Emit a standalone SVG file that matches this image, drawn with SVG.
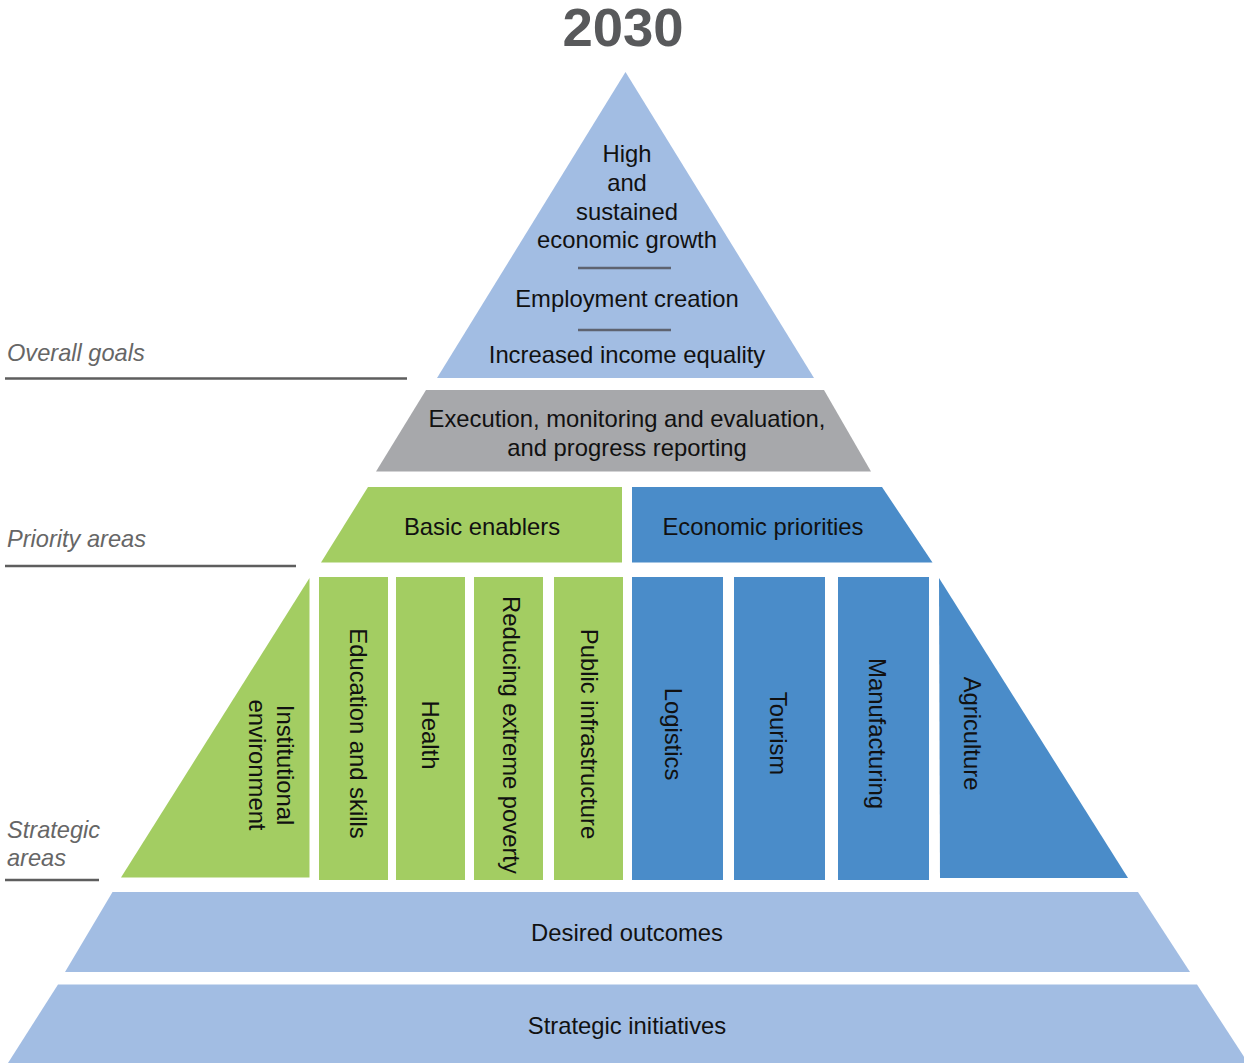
<svg xmlns="http://www.w3.org/2000/svg" width="1244" height="1063" viewBox="0 0 1244 1063">
<style>
text{font-family:"Liberation Sans",Arial,Helvetica,sans-serif;fill:#111;}
.t{font-size:23.8px;text-anchor:middle;}
.lbl{font-size:23.6px;font-style:italic;fill:#666;}
.rule{stroke:#5e5e5e;stroke-width:2.5;fill:none;}
.sep{stroke:#5e6370;stroke-width:2.5;}
.lb{fill:#a2bde3;}
.gr{fill:#a7a8ab;}
.gn{fill:#a3cd62;}
.bl{fill:#4a8cc9;}
</style>
<rect width="1244" height="1063" fill="#fff"/>
<text id="title" x="623" y="46" style="font-size:54.5px;font-weight:bold;fill:#58595b;text-anchor:middle">2030</text>

<g id="labels">
<text class="lbl" x="7" y="361">Overall goals</text>
<line class="rule" x1="5" y1="378.5" x2="407" y2="378.5"/>
<text class="lbl" x="7" y="547">Priority areas</text>
<line class="rule" x1="5" y1="566" x2="296" y2="566"/>
<text class="lbl" x="7" y="838">Strategic</text>
<text class="lbl" x="7" y="866">areas</text>
<line class="rule" x1="5" y1="880" x2="99" y2="880"/>
</g>

<g id="goals">
<polygon class="lb" points="625.5,72 814,378 437,378"/>
<text class="t" x="627" y="162">High</text>
<text class="t" x="627" y="191">and</text>
<text class="t" x="627" y="219.5">sustained</text>
<text class="t" x="627" y="248">economic growth</text>
<line class="sep" x1="578" y1="268" x2="671" y2="268"/>
<text class="t" x="627" y="307">Employment creation</text>
<line class="sep" x1="578" y1="330" x2="671" y2="330"/>
<text class="t" x="627" y="363">Increased income equality</text>
</g>

<g id="execution">
<polygon class="gr" points="426,390 824,390 871,471.5 376,471.5"/>
<text class="t" x="627" y="427">Execution, monitoring and evaluation,</text>
<text class="t" x="627" y="456">and progress reporting</text>
</g>

<g id="basic-enablers">
<polygon class="gn" points="368,487 622,487 622,562.5 321,562.5"/>
<text class="t" x="482" y="535">Basic enablers</text>
</g>
<g id="economic-priorities">
<polygon class="bl" points="632,487 882,487 932.5,562.5 632,562.5"/>
<text class="t" x="763" y="535">Economic priorities</text>
</g>

<g id="institutional">
<polygon class="gn" points="309.5,578 309.5,877.5 121,877.5"/>
<text class="t" transform="translate(271,765) rotate(90)"><tspan x="0" y="-6">Institutional</tspan><tspan x="0" y="22">environment</tspan></text>
</g>
<g id="education">
<rect class="gn" x="319" y="577" width="69" height="303"/>
<text class="t" transform="translate(358,733.5) rotate(90)" y="8">Education and skills</text>
</g>
<g id="health">
<rect class="gn" x="396" y="577" width="69" height="303"/>
<text class="t" transform="translate(430,735) rotate(90)" y="8">Health</text>
</g>
<g id="poverty">
<rect class="gn" x="474" y="577" width="69" height="303"/>
<text class="t" transform="translate(510.5,735) rotate(90)" y="8">Reducing extreme poverty</text>
</g>
<g id="infrastructure">
<rect class="gn" x="554" y="577" width="69" height="303"/>
<text class="t" transform="translate(589,734) rotate(90)" y="8">Public infrastructure</text>
</g>
<g id="logistics">
<rect class="bl" x="632" y="577" width="91" height="303"/>
<text class="t" transform="translate(673,734) rotate(90)" y="8">Logistics</text>
</g>
<g id="tourism">
<rect class="bl" x="734" y="577" width="91" height="303"/>
<text class="t" transform="translate(778,733.5) rotate(90)" y="8">Tourism</text>
</g>
<g id="manufacturing">
<rect class="bl" x="838" y="577" width="91" height="303"/>
<text class="t" transform="translate(877,733.5) rotate(90)" y="8">Manufacturing</text>
</g>
<g id="agriculture">
<polygon class="bl" points="939,578 1128,878 940,878"/>
<text class="t" transform="translate(971.5,733.5) rotate(90)" y="8">Agriculture</text>
</g>

<g id="desired-outcomes">
<polygon class="lb" points="112.5,892 1138,892 1190,972 65,972"/>
<text class="t" x="627" y="941">Desired outcomes</text>
</g>
<g id="strategic-initiatives">
<polygon class="lb" points="58,984.5 1197,984.5 1248,1063 8,1063"/>
<text class="t" x="627" y="1034">Strategic initiatives</text>
</g>

<g id="connectors"></g>
</svg>
